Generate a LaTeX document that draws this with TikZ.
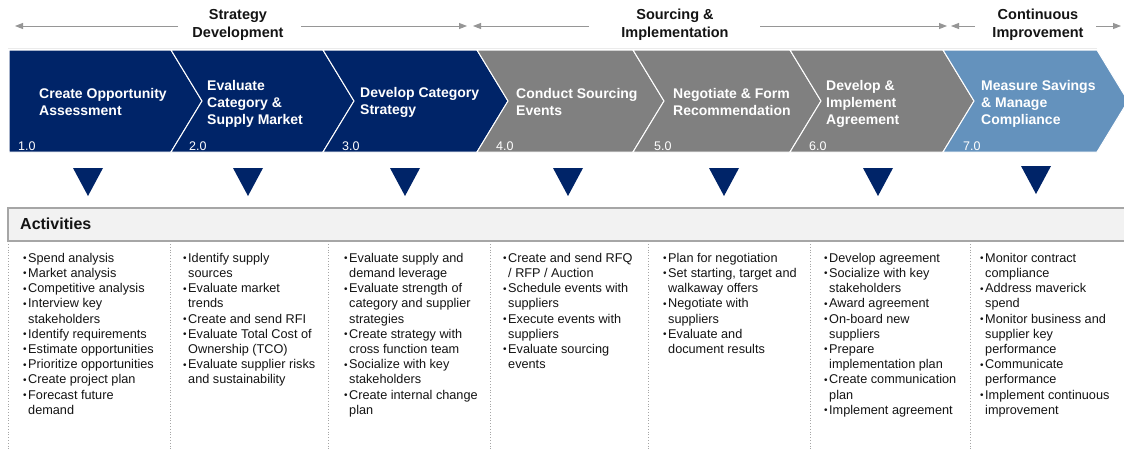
\documentclass[tikz,border=0pt]{standalone}
\usepackage{fontspec}
\setmainfont{Liberation Sans}
\usetikzlibrary{arrows.meta}
\definecolor{navy}{RGB}{0,36,104}
\definecolor{chgray}{RGB}{128,128,128}
\definecolor{steel}{RGB}{100,146,189}
\definecolor{linegray}{RGB}{150,150,150}
\definecolor{barfill}{RGB}{242,242,242}
\definecolor{barline}{RGB}{166,166,166}
\definecolor{txt}{RGB}{20,20,20}
\newcommand\bu{\makebox[5pt][l]{\raisebox{0.6pt}{\fontsize{10}{10}\selectfont •}}}
\newcommand\ct{\hspace*{5pt}}
\newcommand\st{\rule{0pt}{10pt}}
\tikzset{
  hdr/.style={font=\fontsize{14.5}{18}\selectfont\bfseries, align=center, text=txt, inner sep=0},
  hdrarrow/.style={draw=linegray, line width=0.9pt, -{Triangle[length=8pt,width=6pt]}},
  chev/.style={draw=white, line width=1pt},
  chevtext/.style={font=\fontsize{14}{17}\selectfont\bfseries, text=white, align=left, anchor=west, inner sep=0},
  num/.style={font=\fontsize{12.5}{15}\selectfont, text=white, anchor=base west, inner sep=0},
  tri/.style={fill=navy},
  sepline/.style={draw=barline, dotted, line width=0.8pt},
  act/.style={font=\fontsize{12.7}{15.2}\selectfont, text=txt, align=left, anchor=north west, inner sep=0},
}
\begin{document}
\begin{tikzpicture}[x=1pt,y=-1pt]
\useasboundingbox (0,0) rectangle (1124,451);
\fill[white] (0,0) rectangle (1124,451);

% header labels and arrows
\node[hdr] (h1) at (238,25) {Strategy\\Development};
\node[hdr] (h2) at (675,25) {Sourcing \&\\Implementation};
\node[hdr] (h3) at (1038,25) {Continuous\\Improvement};
\coordinate (h1a) at (178,26); \coordinate (h1l) at (15,26);
\coordinate (h1b) at (301,26); \coordinate (h1r) at (467,26);
\coordinate (h2a) at (589,26); \coordinate (h2l) at (473,26);
\coordinate (h2b) at (760,26); \coordinate (h2r) at (947,26);
\coordinate (h3a) at (975,26); \coordinate (h3l) at (951,26);
\coordinate (h3b) at (1096,26); \coordinate (h3r) at (1121,26);
\draw[hdrarrow] (h1a) -- (h1l);
\draw[hdrarrow] (h1b) -- (h1r);
\draw[hdrarrow] (h2a) -- (h2l);
\draw[hdrarrow] (h2b) -- (h2r);
\draw[hdrarrow] (h3a) -- (h3l);
\draw[hdrarrow] (h3b) -- (h3r);
\draw[black!8, line width=0.8pt] (8,48) -- (1097,48);

% chevrons
\filldraw[chev, fill=navy] (9,50) -- (171,50) -- (202,101) -- (171,152) -- (9,152) -- cycle;
\filldraw[chev, fill=navy] (171,50) -- (323,50) -- (354,101) -- (323,152) -- (171,152) -- (202,101) -- cycle;
\filldraw[chev, fill=navy] (323,50) -- (477,50) -- (508,101) -- (477,152) -- (323,152) -- (354,101) -- cycle;
\filldraw[chev, fill=chgray] (477,50) -- (633,50) -- (664,101) -- (633,152) -- (477,152) -- (508,101) -- cycle;
\filldraw[chev, fill=chgray] (633,50) -- (790,50) -- (821,101) -- (790,152) -- (633,152) -- (664,101) -- cycle;
\filldraw[chev, fill=chgray] (790,50) -- (943,50) -- (974,101) -- (943,152) -- (790,152) -- (821,101) -- cycle;
\filldraw[chev, fill=steel] (943,50) -- (1097,50) -- (1128,101) -- (1097,152) -- (943,152) -- (974,101) -- cycle;

\node[chevtext] (c1) at (39,102) {Create Opportunity\\Assessment};
\node[chevtext] (c2) at (207,104) {Evaluate\\Category \&\\Supply Market};
\node[chevtext] (c3) at (360,102) {Develop Category\\Strategy};
\node[chevtext] (c4) at (516,102) {Conduct Sourcing\\Events};
\node[chevtext] (c5) at (673,102) {Negotiate \& Form\\Recommendation};
\node[chevtext] (c6) at (826,104) {Develop \&\\Implement\\Agreement};
\node[chevtext] (c7) at (981,104) {Measure Savings\\\& Manage\\Compliance};

\node[num] (n1) at (18,150) {1.0};
\node[num] (n2) at (189,150) {2.0};
\node[num] (n3) at (342,150) {3.0};
\node[num] (n4) at (496,150) {4.0};
\node[num] (n5) at (654,150) {5.0};
\node[num] (n6) at (809,150) {6.0};
\node[num] (n7) at (963,150) {7.0};

% triangles
\foreach \cx in {88,248,405,568,724,878}{
  \fill[tri] (\cx-15,168) -- (\cx+15,168) -- (\cx,196) -- cycle;
}
\fill[tri] (1036-15,166) -- (1036+15,166) -- (1036,194) -- cycle;

% activities bar
\fill[barfill] (8,208) rectangle (1124,241);
\draw[barline, line width=1.2pt] (1124,208) -- (8,208) -- (8,241) -- (1124,241);
\node[font=\fontsize{16}{19}\selectfont\bfseries, text=txt, anchor=west, inner sep=0] (acts) at (20,224) {Activities};

% separators
\foreach \sx in {8,170,328,490,648,810,970}{
  \draw[sepline] (\sx,244) -- (\sx,451);
}

% activity lists
\node[act] (l1) at (23,252) {\st\bu Spend analysis\\
\bu Market analysis\\
\bu Competitive analysis\\
\bu Interview key\\
\ct stakeholders\\
\bu Identify requirements\\
\bu Estimate opportunities\\
\bu Prioritize opportunities\\
\bu Create project plan\\
\bu Forecast future\\
\ct demand};
\node[act] (l2) at (183,252) {\st\bu Identify supply\\
\ct sources\\
\bu Evaluate market\\
\ct trends\\
\bu Create and send RFI\\
\bu Evaluate Total Cost of\\
\ct Ownership (TCO)\\
\bu Evaluate supplier risks\\
\ct and sustainability};
\node[act] (l3) at (344,252) {\st\bu Evaluate supply and\\
\ct demand leverage\\
\bu Evaluate strength of\\
\ct category and supplier\\
\ct strategies\\
\bu Create strategy with\\
\ct cross function team\\
\bu Socialize with key\\
\ct stakeholders\\
\bu Create internal change\\
\ct plan};
\node[act] (l4) at (503,252) {\st\bu Create and send RFQ\\
\ct / RFP / Auction\\
\bu Schedule events with\\
\ct suppliers\\
\bu Execute events with\\
\ct suppliers\\
\bu Evaluate sourcing\\
\ct events};
\node[act] (l5) at (663,252) {\st\bu Plan for negotiation\\
\bu Set starting, target and\\
\ct walkaway offers\\
\bu Negotiate with\\
\ct suppliers\\
\bu Evaluate and\\
\ct document results};
\node[act] (l6) at (824,252) {\st\bu Develop agreement\\
\bu Socialize with key\\
\ct stakeholders\\
\bu Award agreement\\
\bu On-board new\\
\ct suppliers\\
\bu Prepare\\
\ct implementation plan\\
\bu Create communication\\
\ct plan\\
\bu Implement agreement};
\node[act] (l7) at (980,252) {\st\bu Monitor contract\\
\ct compliance\\
\bu Address maverick\\
\ct spend\\
\bu Monitor business and\\
\ct supplier key\\
\ct performance\\
\bu Communicate\\
\ct performance\\
\bu Implement continuous\\
\ct improvement};
\end{tikzpicture}
\end{document}
